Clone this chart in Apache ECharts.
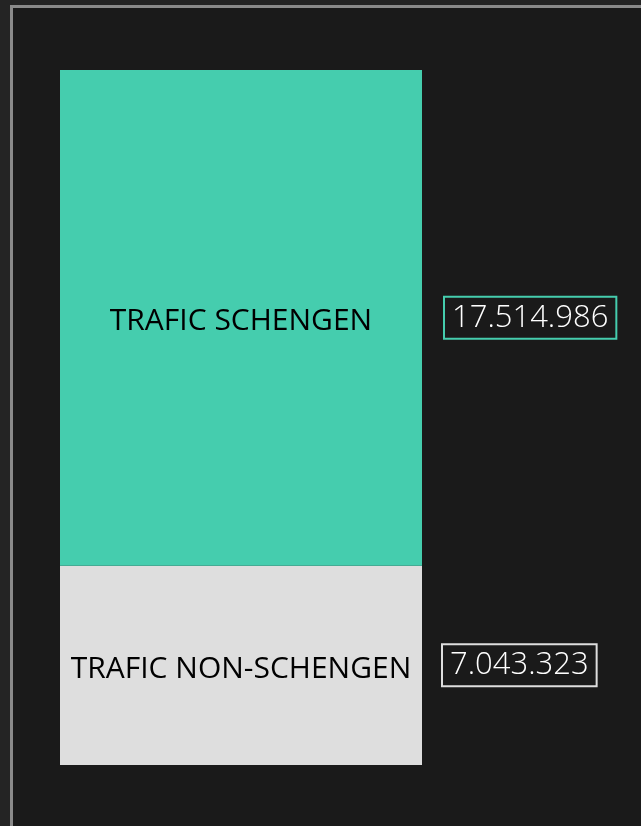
<!DOCTYPE html>
<html><head><meta charset="utf-8">
<script src="https://cdn.jsdelivr.net/npm/echarts@6/dist/echarts.min.js"></script>
<style>
html,body{margin:0;padding:0;background:#242424;width:641px;height:826px;overflow:hidden}
#frame{position:absolute;left:10px;top:5px;width:640px;height:830px;background:#1a1a1a;border-left:3px solid #8a8a8a;border-top:3px solid #8a8a8a}
#c{position:absolute;left:0;top:0;width:641px;height:826px}
</style></head>
<body><div id="frame"></div><div id="c"></div>
<script>
const categories = ['Trafic'];
const segNames = ['TRAFIC NON-SCHENGEN', 'TRAFIC SCHENGEN'];
const segValues = [7043323, 17514986];
const segColors = ['#dedede', '#45cdae'];

const fmt = v => String(v).replace(/\B(?=(\d{3})+(?!\d))/g, '.');
const FONT = '"Open Sans", "Noto Sans", sans-serif';
const total = segValues.reduce((a, b) => a + b, 0);

const series = [];
segNames.forEach((n, i) => {
  series.push({
    type: 'bar', name: n, stack: 'a', barWidth: 362, barGap: '-100%',
    data: [segValues[i]], itemStyle: { color: segColors[i] },
    label: { show: true, position: 'inside', offset: [0, 4], formatter: n, color: '#000', fontSize: 30, fontFamily: FONT },
    silent: true
  });
});
segNames.forEach((n, i) => {
  series.push({
    type: 'bar', name: n + '_v', stack: 'b', barWidth: 362, barGap: '-100%',
    data: [segValues[i]], itemStyle: { color: 'transparent' },
    label: { show: true, position: 'right', distance: i === 0 ? 20 : 22,
      formatter: p => fmt(p.value), color: '#fff', fontSize: 31, fontFamily: FONT, fontWeight: 300,
      borderColor: segColors[i], borderWidth: 2, padding: [6, 8, 5, 8] },
    silent: true
  });
});

const chart = echarts.init(document.getElementById('c'), null, { renderer: 'canvas' });
chart.setOption({
  animation: false,
  backgroundColor: 'transparent',
  grid: { left: 60, top: 70, width: 362, bottom: 61 },
  xAxis: { type: 'category', data: categories, show: false },
  yAxis: { type: 'value', min: 0, max: total, show: false },
  series
});
</script></body></html>
